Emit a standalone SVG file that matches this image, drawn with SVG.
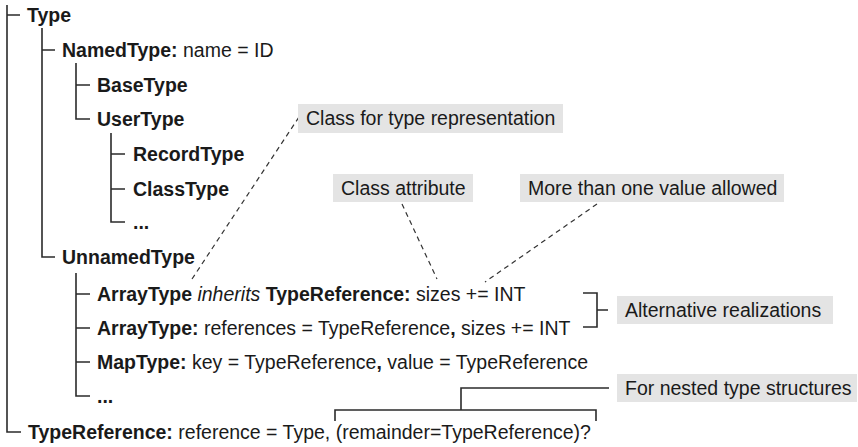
<svg xmlns="http://www.w3.org/2000/svg" width="858" height="447" viewBox="0 0 858 447">
<style>
text{font-family:"Liberation Sans",Arial,sans-serif;font-size:19.5px;fill:#1a1a1a}
.b{font-weight:bold}
.i{font-style:italic}
.tree{fill:none;stroke:#2b2b2b;stroke-width:1.6}
.dash{fill:none;stroke:#333;stroke-width:1.2;stroke-dasharray:5 4}
.box{fill:#e4e4e4}
</style>
<rect width="858" height="447" fill="#fff"/>
<g id="connectors">
<path class="tree" d="M7 5V432H21M7 15H20"/>
<path class="tree" d="M42 28V257H55M42 50H55"/>
<path class="tree" d="M76 63V119H90M76 85H90"/>
<path class="tree" d="M111 133V222H125M111 154H125M111 189H125"/>
<path class="tree" d="M76 273V396H90M76 294H90M76 328H90M76 362H90"/>
<path class="tree" d="M583 293H597V327H583M597 310H608"/>
<path class="tree" d="M335 421V410H596V421M461 410V388H609"/>
<path class="dash" d="M192 279L299 117"/>
<path class="dash" d="M402 204L437 279"/>
<path class="dash" d="M597 204L485 282"/>
</g>
<g id="n-type"><text x="27" y="22" class="b">Type</text></g>
<g id="n-namedtype"><text x="62" y="57"><tspan class="b">NamedType:</tspan> name = ID</text></g>
<g id="n-basetype"><text x="97" y="92" class="b">BaseType</text></g>
<g id="n-usertype"><text x="97" y="126" class="b">UserType</text></g>
<g id="n-recordtype"><text x="133" y="161" class="b">RecordType</text></g>
<g id="n-classtype"><text x="133" y="196" class="b">ClassType</text></g>
<g id="n-more1"><text x="133" y="229" class="b">...</text></g>
<g id="n-unnamedtype"><text x="62" y="264" class="b">UnnamedType</text></g>
<g id="n-arraytype1"><text x="97" y="301"><tspan class="b">ArrayType</tspan> <tspan class="i">inherits</tspan> <tspan class="b">TypeReference:</tspan> sizes += INT</text></g>
<g id="n-arraytype2"><text x="97" y="335"><tspan class="b">ArrayType:</tspan> references = TypeReference<tspan class="b">,</tspan> sizes += INT</text></g>
<g id="n-maptype"><text x="97" y="369"><tspan class="b">MapType:</tspan> key = TypeReference<tspan class="b">,</tspan> value = TypeReference</text></g>
<g id="n-more2"><text x="97" y="403" class="b">...</text></g>
<g id="n-typereference"><text x="28" y="439"><tspan class="b">TypeReference:</tspan> reference = Type, (remainder=TypeReference)?</text></g>
<g id="a-class-repr"><rect class="box" x="298" y="104" width="265" height="29"/><text x="306" y="125">Class for type representation</text></g>
<g id="a-class-attr"><rect class="box" x="333" y="174" width="140" height="28"/><text x="341" y="195">Class attribute</text></g>
<g id="a-more-values"><rect class="box" x="520" y="174" width="264" height="28"/><text x="528" y="195">More than one value allowed</text></g>
<g id="a-alt"><rect class="box" x="617" y="296" width="216" height="28"/><text x="625" y="317">Alternative realizations</text></g>
<g id="a-nested"><rect class="box" x="617" y="374" width="240" height="28"/><text x="625" y="395">For nested type structures</text></g>
</svg>
